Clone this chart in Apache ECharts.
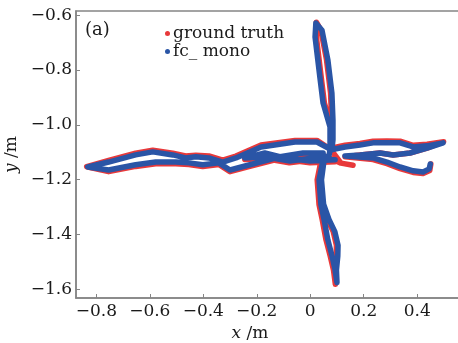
<!DOCTYPE html>
<html><head><meta charset="utf-8">
<script src="https://cdn.jsdelivr.net/npm/echarts@6/dist/echarts.min.js"></script>
<style>html,body{margin:0;padding:0;background:#fff}#c{width:458px;height:343px}</style>
</head><body><div id="c"></div>
<script>
// ---- data ----
const seriesNames = ['ground truth', 'fc_ mono'];
const xTickValues = [-0.8, -0.6, -0.4, -0.2, 0, 0.2, 0.4];
const xTickLabels = ['\u22120.8', '\u22120.6', '\u22120.4', '\u22120.2', '0', '0.2', '0.4'];
const yTickValues = [-1.6, -1.4, -1.2, -1.0, -0.8, -0.6];
const yTickLabels = ['\u22121.6', '\u22121.4', '\u22121.2', '\u22121.0', '\u22120.8', '\u22120.6'];

// ground truth trajectory (x, y in m)
const groundTruth = [
  [0.078,-1.092],[0.078,-1.008],[0.053,-0.921],[0.041,-0.826],[0.023,-0.680],[0.023,-0.626],
  [0.040,-0.655],[0.061,-0.764],[0.076,-0.884],[0.080,-0.983],[0.082,-1.055],[0.080,-1.092],
  [0.025,-1.057],[-0.057,-1.057],[-0.184,-1.074],[-0.278,-1.114],[-0.327,-1.129],[-0.379,-1.114],
  [-0.428,-1.111],[-0.466,-1.114],[-0.514,-1.104],[-0.589,-1.093],[-0.653,-1.104],[-0.754,-1.130],
  [-0.836,-1.153],[-0.754,-1.171],[-0.653,-1.152],[-0.578,-1.142],[-0.503,-1.142],[-0.454,-1.145],
  [-0.402,-1.152],[-0.342,-1.145],[-0.300,-1.171],[-0.226,-1.152],[-0.113,-1.123],[-0.027,-1.109],
  [0.048,-1.109],
  [0.041,-1.128],[0.026,-1.201],[0.033,-1.292],[0.045,-1.347],[0.059,-1.420],[0.075,-1.480],
  [0.087,-1.530],[0.094,-1.582],[0.093,-1.530],[0.097,-1.480],[0.098,-1.440],[0.086,-1.390],
  [0.064,-1.345],[0.044,-1.290],[0.035,-1.201],[0.046,-1.128],
  [0.093,-1.135],[-0.001,-1.139],[-0.095,-1.127],[-0.170,-1.109],[-0.245,-1.127],[-0.170,-1.123],
  [-0.078,-1.139],[0.070,-1.120],
  [0.115,-1.140],[0.160,-1.148],[0.115,-1.140],
  [0.074,-1.086],[0.130,-1.075],[0.186,-1.068],[0.235,-1.060],[0.287,-1.059],[0.336,-1.060],
  [0.385,-1.075],[0.437,-1.071],[0.499,-1.062],[0.437,-1.085],[0.373,-1.103],[0.310,-1.110],
  [0.261,-1.103],[0.186,-1.110],[0.130,-1.117],[0.235,-1.127],[0.287,-1.142],[0.336,-1.160],
  [0.385,-1.174],[0.422,-1.178],[0.447,-1.167],[0.451,-1.143]
];

// fc_ mono estimated trajectory (x, y in m)
const fcMono = [
  [0.074,-1.092],[0.074,-1.008],[0.048,-0.921],[0.036,-0.826],[0.018,-0.680],[0.021,-0.629],
  [0.044,-0.655],[0.066,-0.764],[0.081,-0.884],[0.085,-0.983],[0.085,-1.055],[0.081,-1.092],
  [0.025,-1.063],[-0.057,-1.063],[-0.184,-1.081],[-0.278,-1.121],[-0.327,-1.136],[-0.379,-1.121],
  [-0.428,-1.117],[-0.466,-1.121],[-0.514,-1.110],[-0.589,-1.099],[-0.653,-1.110],[-0.754,-1.136],
  [-0.832,-1.154],[-0.754,-1.165],[-0.653,-1.146],[-0.578,-1.136],[-0.503,-1.136],[-0.454,-1.139],
  [-0.402,-1.146],[-0.342,-1.139],[-0.300,-1.165],[-0.226,-1.146],[-0.113,-1.117],[-0.027,-1.103],
  [0.048,-1.103],
  [0.048,-1.128],[0.033,-1.201],[0.040,-1.292],[0.052,-1.347],[0.066,-1.420],[0.082,-1.480],
  [0.093,-1.530],[0.100,-1.576],[0.098,-1.530],[0.103,-1.480],[0.104,-1.440],[0.092,-1.390],
  [0.070,-1.345],[0.050,-1.290],[0.042,-1.201],[0.052,-1.128],
  [0.093,-1.128],[-0.001,-1.132],[-0.095,-1.121],[-0.170,-1.103],[-0.245,-1.121],[-0.170,-1.117],
  [-0.076,-1.132],[0.070,-1.114],
  [0.074,-1.092],[0.130,-1.081],[0.186,-1.074],[0.235,-1.066],[0.287,-1.066],[0.336,-1.066],
  [0.385,-1.081],[0.437,-1.077],[0.497,-1.066],[0.437,-1.085],[0.373,-1.103],[0.310,-1.110],
  [0.261,-1.103],[0.186,-1.110],[0.130,-1.114],[0.235,-1.121],[0.287,-1.136],[0.336,-1.154],
  [0.385,-1.168],[0.422,-1.172],[0.445,-1.161],[0.449,-1.143]
];

// ---- chart ----
const FONT = 'DejaVu Serif';
const AXIS_COLOR = '#858585';
const TEXT_COLOR = '#1a1a1a';
const RED = '#e8393a';
const BLUE = '#2a55a6';

function labelFor(values, labels) {
  return function (v) {
    for (let i = 0; i < values.length; i++) if (Math.abs(values[i] - v) < 1e-6) return labels[i];
    return '';
  };
}

const chart = echarts.init(document.getElementById('c'), null, {renderer: 'canvas'});
chart.setOption({
  animation: false,
  backgroundColor: '#fff',
  grid: {
    left: 76, top: 11, width: 392, height: 287,
    containLabel: false, outerBoundsMode: 'none',
    show: true, borderColor: AXIS_COLOR, borderWidth: 1.5, backgroundColor: 'transparent'
  },
  legend: {
    orient: 'vertical', left: 160, top: 20, itemGap: 1,
    itemWidth: 5, itemHeight: 5, itemStyle: {borderWidth: 0},
    textStyle: {fontFamily: FONT, fontSize: 17, color: TEXT_COLOR, padding: [0, 0, 0, -2]},
    data: [
      {name: seriesNames[0], icon: 'circle', itemStyle: {color: RED}},
      {name: seriesNames[1], icon: 'circle', itemStyle: {color: BLUE}}
    ]
  },
  graphic: [{
    type: 'text', left: 85, top: 21,
    style: {text: '(a)', font: '18px "DejaVu Serif"', fill: TEXT_COLOR}
  }],
  xAxis: {
    type: 'value', min: -0.876, max: 0.590,
    name: '{i|x} /m', nameLocation: 'middle', nameGap: 22,
    nameTextStyle: {fontFamily: FONT, fontSize: 17, color: TEXT_COLOR, padding: [0, 44, 0, 0],
      rich: {i: {fontFamily: FONT, fontSize: 17, fontStyle: 'italic', color: TEXT_COLOR}}},
    axisLine: {show: true, onZero: false, lineStyle: {color: AXIS_COLOR, width: 1.5}},
    axisTick: {show: true, inside: true, length: 4, lineStyle: {color: AXIS_COLOR}, customValues: xTickValues},
    axisLabel: {customValues: xTickValues, formatter: labelFor(xTickValues, xTickLabels),
      fontFamily: FONT, fontSize: 17, color: TEXT_COLOR, margin: 5},
    splitLine: {show: false}
  },
  yAxis: {
    type: 'value', min: -1.632, max: -0.585,
    name: '{i|y} /m', nameLocation: 'middle', nameGap: 50,
    nameTextStyle: {fontFamily: FONT, fontSize: 17, color: TEXT_COLOR,
      rich: {i: {fontFamily: FONT, fontSize: 17, fontStyle: 'italic', color: TEXT_COLOR}}},
    axisLine: {show: true, onZero: false, lineStyle: {color: AXIS_COLOR, width: 1.5}},
    axisTick: {show: true, inside: true, length: 4, lineStyle: {color: AXIS_COLOR}, customValues: yTickValues},
    axisLabel: {customValues: yTickValues, formatter: labelFor(yTickValues, yTickLabels),
      fontFamily: FONT, fontSize: 17, color: TEXT_COLOR, margin: 4},
    splitLine: {show: false}
  },
  series: [
    {name: seriesNames[0], type: 'line', data: groundTruth, showSymbol: false, symbol: 'none',
      itemStyle: {color: RED}, z: 2,
      lineStyle: {color: RED, width: 5.5, cap: 'round', join: 'round'}},
    {name: seriesNames[1], type: 'line', data: fcMono, showSymbol: false, symbol: 'none',
      itemStyle: {color: BLUE}, z: 3,
      lineStyle: {color: BLUE, width: 5.5, cap: 'round', join: 'round'}}
  ]
});
</script></body></html>
